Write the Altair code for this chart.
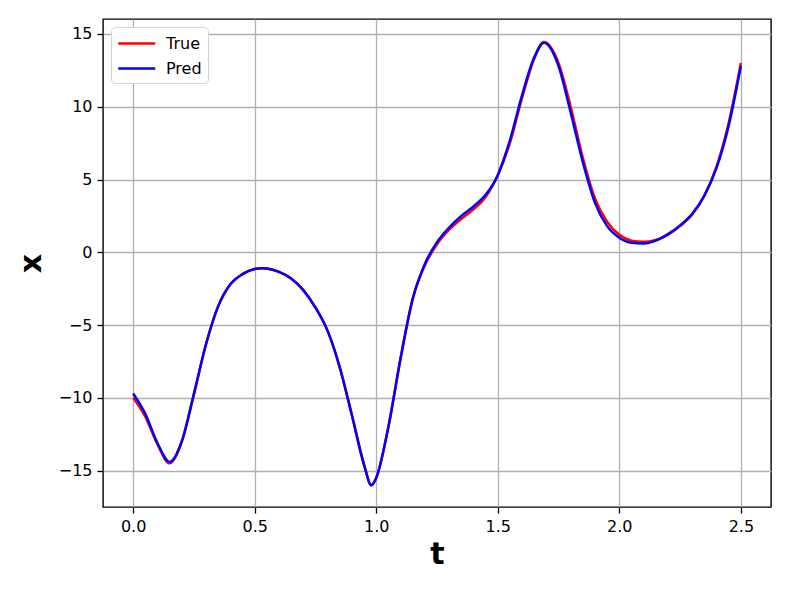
import altair as alt
import pandas as pd

t_vals = [0.0, 0.05, 0.1, 0.15, 0.2, 0.25, 0.3, 0.35, 0.4, 0.45, 0.5, 0.53, 0.55, 0.6, 0.65, 0.7,
          0.75, 0.8, 0.85, 0.9, 0.95, 0.98, 1.0, 1.05, 1.1, 1.15, 1.2, 1.25, 1.3, 1.35, 1.4,
          1.45, 1.5, 1.55, 1.6, 1.65, 1.69, 1.75, 1.8, 1.85, 1.9, 1.95, 2.0, 2.05, 2.1, 2.15,
          2.2, 2.25, 2.3, 2.35, 2.4, 2.45, 2.5]
x_true = [-10.0, -11.3, -13.2, -14.5, -13.0, -9.8, -6.3, -3.7, -2.2, -1.5, -1.15, -1.1, -1.12,
          -1.35, -1.8, -2.6, -3.8, -5.4, -7.9, -11.2, -14.6, -16.0, -15.5, -12.0, -7.3, -3.2,
          -0.9, 0.55, 1.55, 2.3, 2.95, 3.8, 5.3, 7.5, 10.6, 13.3, 14.45, 13.0, 10.0, 6.5, 3.7,
          2.1, 1.2, 0.8, 0.72, 0.85, 1.2, 1.8, 2.6, 3.9, 5.9, 8.9, 13.0]
x_pred = [-9.7, -11.1, -13.1, -14.4, -13.0, -9.7, -6.3, -3.7, -2.2, -1.5, -1.15, -1.1, -1.12,
          -1.35, -1.8, -2.6, -3.8, -5.4, -7.9, -11.2, -14.6, -16.0, -15.5, -12.0, -7.3, -3.2,
          -0.8, 0.7, 1.7, 2.5, 3.15, 3.95, 5.3, 7.7, 10.8, 13.4, 14.4, 12.8, 9.6, 6.2, 3.4,
          1.8, 1.0, 0.65, 0.6, 0.8, 1.25, 1.85, 2.65, 3.9, 5.8, 8.7, 12.8]

series_names = ["True", "Pred"]
series_colors = ["red", "blue"]

df = pd.concat([
    pd.DataFrame({"t": t_vals, "x": x_true, "series": "True", "order": 0}),
    pd.DataFrame({"t": t_vals, "x": x_pred, "series": "Pred", "order": 1}),
], ignore_index=True)

font = "DejaVu Sans"

chart = alt.Chart(df).mark_line(strokeWidth=2.5, interpolate="monotone").encode(
    x=alt.X("t:Q", scale=alt.Scale(domain=[-0.124, 2.624], nice=False, zero=False),
            axis=alt.Axis(title="t", values=[0.0, 0.5, 1.0, 1.5, 2.0, 2.5], format=".1f",
                          titleFontSize=30, titleFontWeight="bold", titlePadding=5)),
    y=alt.Y("x:Q", scale=alt.Scale(domain=[-17.5, 16.03], nice=False, zero=False),
            axis=alt.Axis(title="x", values=[-15, -10, -5, 0, 5, 10, 15],
                          titleFontSize=30, titleFontWeight="bold", titlePadding=12)),
    color=alt.Color("series:N", scale=alt.Scale(domain=series_names, range=series_colors),
                    legend=alt.Legend(title=None, orient="none", legendX=8, legendY=8,
                                      symbolType="M-1,0H3", symbolSize=342, symbolStrokeWidth=2.5,
                                      labelFontSize=16, labelFont=font, labelColor="black",
                                      padding=6, fillColor="white", strokeColor="#d5d5d5",
                                      cornerRadius=4, rowPadding=6, labelOffset=28)),
    detail="order:O",
    order="order:O",
).properties(
    width=668, height=488,
    autosize=alt.AutoSizeParams(type="none"),
    padding={"left": 95, "top": 11, "right": 10, "bottom": 70},
).configure_view(
    stroke="black", strokeWidth=1.4
).configure_axis(
    grid=True, gridColor="#b0b0b0", gridWidth=1.3,
    domain=False, tickColor="black", tickSize=6, tickWidth=1.3,
    labelFont=font, labelFontSize=16, labelColor="black", labelPadding=5,
    titleFont=font, titleColor="black",
).configure_axisY(titleAngle=270)

chart.save("out.html", embed_options={"renderer": "svg", "actions": False})
